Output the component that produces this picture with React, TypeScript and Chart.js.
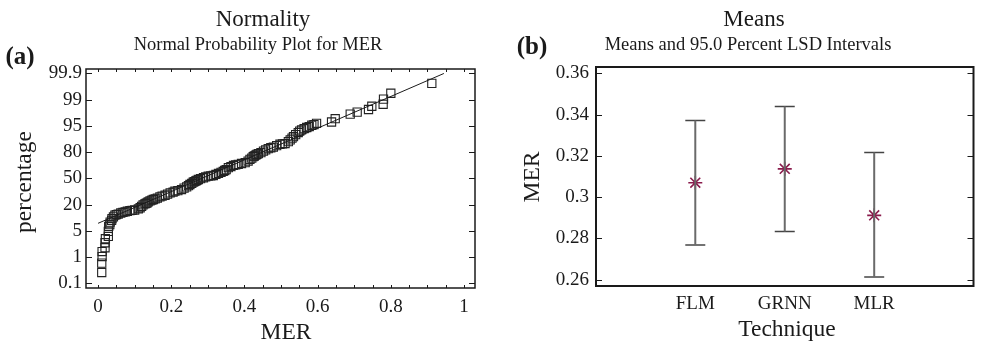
import React, { useEffect, useRef } from 'react';
import { Chart, registerables } from 'chart.js';

Chart.register(...registerables);

// ---------- Panel (a): normal probability plot ----------
const PROB_TICK_LABELS = ['0.1', '1', '5', '20', '50', '80', '95', '99', '99.9'];
const PROB_TICK_VALUES = [0.1, 1, 5, 20, 50, 80, 95, 99, 99.9];
const MER_TICK_LABELS = ['0', '0.2', '0.4', '0.6', '0.8', '1'];
const MER_TICK_VALUES = [0, 0.2, 0.4, 0.6, 0.8, 1];

const MER_VALUES = [
  0.010, 0.010, 0.011, 0.011, 0.019, 0.019, 0.020, 0.028, 0.028, 0.029,
  0.032, 0.033, 0.037, 0.038, 0.042, 0.046, 0.050, 0.055, 0.062, 0.068,
  0.074, 0.080, 0.087, 0.093, 0.100, 0.110, 0.115, 0.119, 0.123, 0.128,
  0.131, 0.134, 0.137, 0.142, 0.147, 0.151, 0.156, 0.162, 0.169, 0.175,
  0.183, 0.190, 0.197, 0.205, 0.210, 0.218, 0.228, 0.235, 0.242, 0.247,
  0.251, 0.256, 0.260, 0.263, 0.267, 0.270, 0.274, 0.280, 0.288, 0.294,
  0.301, 0.308, 0.315, 0.322, 0.329, 0.336, 0.342, 0.346, 0.350, 0.356,
  0.363, 0.370, 0.376, 0.383, 0.392, 0.402, 0.410, 0.415, 0.420, 0.424,
  0.427, 0.431, 0.434, 0.438, 0.445, 0.452, 0.458, 0.465, 0.472, 0.479,
  0.488, 0.497, 0.504, 0.511, 0.520, 0.525, 0.530, 0.534, 0.540, 0.547,
  0.551, 0.556, 0.563, 0.570, 0.577, 0.584, 0.590, 0.597, 0.638, 0.648,
  0.689, 0.708, 0.739, 0.748, 0.779, 0.780, 0.800, 0.912,
];
const MER_PERCENT = [
  0.47, 0.79, 1.08, 1.84, 2.42, 3.18, 3.79, 4.14, 4.91, 7.5,
  8.5, 10.0, 11.0, 12.0, 13.0, 14.0, 14.3, 14.6, 15.2, 15.5,
  15.8, 16.2, 16.6, 16.7, 16.9, 17.6, 18.2, 19.0, 19.8, 20.8,
  21.4, 22.0, 23.1, 24.2, 25.2, 25.8, 26.5, 27.5, 28.8, 29.7,
  30.7, 32.0, 33.4, 34.2, 35.3, 36.0, 37.2, 38.8, 40.3, 41.6,
  43.0, 44.2, 45.6, 46.2, 47.0, 47.8, 48.7, 49.7, 50.7, 51.6,
  52.5, 52.9, 53.3, 54.5, 55.6, 56.8, 57.9, 59.0, 60.0, 62.2,
  63.5, 64.8, 65.4, 66.0, 67.0, 67.9, 69.8, 71.7, 73.2, 74.8,
  75.6, 76.5, 77.4, 78.3, 79.5, 80.6, 81.3, 82.0, 82.5, 82.9,
  83.7, 84.5, 84.7, 84.9, 86.0, 87.0, 88.0, 88.9, 90.0, 91.2,
  92.0, 92.7, 93.4, 94.1, 94.6, 95.1, 95.2, 95.4, 95.6, 96.1,
  96.8, 97.1, 97.5, 98.0, 98.3, 99.02, 99.22, 99.56,
];
const FIT_MER = [0.0, 0.945];
const FIT_PERCENT = [9.3, 99.9];

// ---------- Panel (b): means and LSD intervals ----------
const TECHNIQUES = ['FLM', 'GRNN', 'MLR'];
const MEANS = [0.3070, 0.3137, 0.2912];
const LSD_LOW = [0.2768, 0.2834, 0.2613];
const LSD_HIGH = [0.3371, 0.3439, 0.3216];
const MEAN_AXIS_TICKS = [0.26, 0.28, 0.3, 0.32, 0.34, 0.36];
const MEAN_AXIS_LABELS = ['0.26', '0.28', '0.3', '0.32', '0.34', '0.36'];

const FONT = "'Liberation Serif', 'DejaVu Serif', serif";
const INK = '#1a1a1a';

// Probability axis: tick positions are equally spaced
function pctToPos(p: number): number {
  const v = PROB_TICK_VALUES;
  let k = 0;
  if (p <= v[0]) k = 0;
  else if (p >= v[v.length - 1]) k = v.length - 2;
  else {
    while (k < v.length - 2 && p > v[k + 1]) k++;
  }
  return k + (p - v[k]) / (v[k + 1] - v[k]);
}

type TextItem = { text: string; x: number; y: number; size: number; bold?: boolean; rotate?: boolean };

const textPlugin = {
  id: 'texts',
  afterDraw(chart: any, _args: any, opts: any) {
    const ctx = chart.ctx;
    (opts.items as TextItem[]).forEach((t) => {
      ctx.save();
      ctx.fillStyle = INK;
      ctx.font = `${t.bold ? 'bold ' : ''}${t.size}px ${FONT}`;
      ctx.textAlign = 'center';
      ctx.textBaseline = 'middle';
      ctx.translate(t.x, t.y);
      if (t.rotate) ctx.rotate(-Math.PI / 2);
      ctx.fillText(t.text, 0, 0);
      ctx.restore();
    });
  },
};

const framePlugin = {
  id: 'frame',
  afterDatasetsDraw(chart: any, _args: any, opts: any) {
    const { ctx, chartArea: a, scales } = chart;
    ctx.save();
    ctx.strokeStyle = INK;
    ctx.lineWidth = opts.lineWidth;
    ctx.strokeRect(a.left, a.top, a.right - a.left, a.bottom - a.top);
    ctx.lineWidth = 1;
    ctx.beginPath();
    scales.y.ticks.forEach((t: any) => {
      const py = Math.round(scales.y.getPixelForValue(t.value)) + 0.5;
      ctx.moveTo(a.left, py);
      ctx.lineTo(a.left + opts.yTick, py);
      ctx.moveTo(a.right, py);
      ctx.lineTo(a.right - opts.yTick, py);
    });
    if (opts.xTick) {
      scales.x.ticks.forEach((t: any) => {
        const px = Math.round(scales.x.getPixelForValue(t.value)) + 0.5;
        ctx.moveTo(px, a.bottom);
        ctx.lineTo(px, a.bottom - opts.xTick);
        ctx.moveTo(px, a.top);
        ctx.lineTo(px, a.top + opts.xTick);
      });
    }
    ctx.stroke();
    ctx.restore();
  },
};

const hiddenGrid = { display: false, drawTicks: false, tickLength: 0 };

function ProbabilityPanel() {
  const ref = useRef<HTMLCanvasElement | null>(null);
  useEffect(() => {
    if (!ref.current) return;
    const points = MER_VALUES.map((x, i) => ({ x, y: pctToPos(MER_PERCENT[i]) }));
    const fit = FIT_MER.map((x, i) => ({ x, y: pctToPos(FIT_PERCENT[i]) }));
    const chart = new Chart(ref.current, {
      type: 'scatter',
      data: {
        datasets: [
          {
            data: fit,
            showLine: true,
            borderColor: INK,
            borderWidth: 1,
            pointRadius: 0,
          },
          {
            data: points,
            pointStyle: 'rect',
            pointRadius: 5.8,
            pointBorderWidth: 1.1,
            pointBorderColor: '#222',
            pointBackgroundColor: 'rgba(0,0,0,0)',
          },
        ],
      } as any,
      options: {
        responsive: false,
        animation: false,
        events: [],
        layout: { padding: { left: 0, right: 17, top: 69, bottom: 0 } },
        plugins: {
          legend: { display: false },
          tooltip: { enabled: false },
          frame: { lineWidth: 1.5, yTick: 6, xTick: 3 },
          texts: {
            items: [
              { text: 'Normality', x: 263, y: 20, size: 23 },
              { text: 'Normal Probability Plot for MER', x: 258, y: 45, size: 18.5 },
              { text: '(a)', x: 20, y: 58, size: 25, bold: true },
              { text: 'percentage', x: 25, y: 182, size: 23.5, rotate: true },
              { text: 'MER', x: 286, y: 333, size: 23.5 },
            ],
          },
        } as any,
        scales: {
          x: {
            type: 'linear',
            min: -0.033,
            max: 1.03,
            grid: hiddenGrid,
            border: { display: false },
            afterFit: (s: any) => { s.height = 59; },
            afterBuildTicks: (s: any) => {
              const t = [];
              for (let i = 0; i <= 20; i++) t.push({ value: i * 0.05 });
              s.ticks = t;
            },
            ticks: {
              autoSkip: false,
              maxRotation: 0,
              padding: 8,
              color: INK,
              font: { family: FONT, size: 19 },
              callback: (v: any) => {
                const idx = MER_TICK_VALUES.findIndex((m) => Math.abs(m - Number(v)) < 1e-6);
                return idx >= 0 ? MER_TICK_LABELS[idx] : '';
              },
            },
          },
          y: {
            type: 'linear',
            min: -0.18,
            max: 8.17,
            grid: hiddenGrid,
            border: { display: false },
            afterFit: (s: any) => { s.width = 86; },
            afterBuildTicks: (s: any) => {
              s.ticks = PROB_TICK_LABELS.map((_, i) => ({ value: i }));
            },
            ticks: {
              autoSkip: false,
              padding: 4,
              color: INK,
              font: { family: FONT, size: 19 },
              callback: (v: any) => PROB_TICK_LABELS[Number(v)] ?? '',
            },
          },
        },
      } as any,
      plugins: [framePlugin, textPlugin],
    });
    return () => chart.destroy();
  }, []);
  return <canvas ref={ref} width={492} height={347} style={{ position: 'absolute', left: 0, top: 0, display: 'block' }} />;
}

function MeansPanel() {
  const ref = useRef<HTMLCanvasElement | null>(null);
  useEffect(() => {
    if (!ref.current) return;
    const bars: any[] = [];
    TECHNIQUES.forEach((_, i) => {
      bars.push({ x: i + 1, y: LSD_LOW[i] });
      bars.push({ x: i + 1, y: LSD_HIGH[i] });
      bars.push({ x: i + 1.5, y: null });
    });
    const caps: any[] = [];
    TECHNIQUES.forEach((_, i) => {
      caps.push({ x: i + 1, y: LSD_LOW[i] });
      caps.push({ x: i + 1, y: LSD_HIGH[i] });
    });
    const means = MEANS.map((m, i) => ({ x: i + 1, y: m }));
    const chart = new Chart(ref.current, {
      type: 'scatter',
      data: {
        datasets: [
          {
            data: bars,
            showLine: true,
            spanGaps: false,
            borderColor: '#6a6a6a',
            borderWidth: 2,
            pointRadius: 0,
          },
          {
            data: caps,
            pointStyle: 'line',
            pointRadius: 10,
            pointBorderWidth: 1.5,
            pointBorderColor: '#444',
          },
          {
            data: means,
            pointStyle: 'star',
            pointRadius: 7,
            pointBorderWidth: 1.6,
            pointBorderColor: '#8a1b4c',
          },
        ],
      } as any,
      options: {
        responsive: false,
        animation: false,
        events: [],
        layout: { padding: { left: 0, right: 3, top: 67, bottom: 0 } },
        plugins: {
          legend: { display: false },
          tooltip: { enabled: false },
          frame: { lineWidth: 2, yTick: 6, xTick: 0 },
          texts: {
            items: [
              { text: 'Means', x: 262, y: 20, size: 23 },
              { text: 'Means and 95.0 Percent LSD Intervals', x: 256, y: 45, size: 18.5 },
              { text: '(b)', x: 40, y: 48, size: 25, bold: true },
              { text: 'MER', x: 41, y: 177, size: 23.5, rotate: true },
              { text: 'Technique', x: 295, y: 330, size: 23.5 },
            ],
          },
        } as any,
        scales: {
          x: {
            type: 'linear',
            min: -0.11,
            max: 4.11,
            grid: hiddenGrid,
            border: { display: false },
            afterFit: (s: any) => { s.height = 61; },
            afterBuildTicks: (s: any) => {
              s.ticks = TECHNIQUES.map((_, i) => ({ value: i + 1 }));
            },
            ticks: {
              autoSkip: false,
              maxRotation: 0,
              padding: 7,
              color: INK,
              font: { family: FONT, size: 19 },
              callback: (v: any) => TECHNIQUES[Number(v) - 1] ?? '',
            },
          },
          y: {
            type: 'linear',
            min: 0.257,
            max: 0.363,
            grid: hiddenGrid,
            border: { display: false },
            afterFit: (s: any) => { s.width = 104; },
            afterBuildTicks: (s: any) => {
              s.ticks = MEAN_AXIS_TICKS.map((v) => ({ value: v }));
            },
            ticks: {
              autoSkip: false,
              padding: 7,
              color: INK,
              font: { family: FONT, size: 19 },
              callback: (v: any) => {
                const idx = MEAN_AXIS_TICKS.findIndex((m) => Math.abs(m - Number(v)) < 1e-9);
                return idx >= 0 ? MEAN_AXIS_LABELS[idx] : '';
              },
            },
          },
        },
      } as any,
      plugins: [framePlugin, textPlugin],
    });
    return () => chart.destroy();
  }, []);
  return <canvas ref={ref} width={493} height={347} style={{ position: 'absolute', left: 492, top: 0, display: 'block' }} />;
}

export default function App() {
  return (
    <div style={{ position: 'fixed', left: 0, top: 0, width: 985, height: 347, background: '#fff', overflow: 'hidden' }}>
      <ProbabilityPanel />
      <MeansPanel />
    </div>
  );
}
